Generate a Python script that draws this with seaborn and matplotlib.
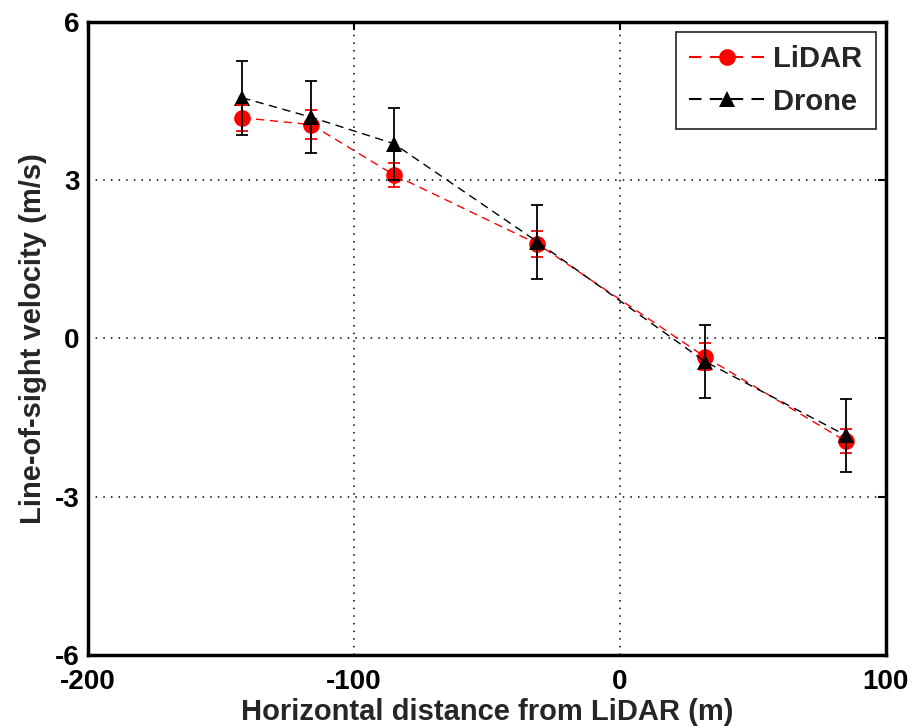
import numpy as np
import pandas as pd
import seaborn as sns
import matplotlib
matplotlib.use("Agg")
import matplotlib.pyplot as plt
from matplotlib.lines import Line2D

# Horizontal distance of each measurement point from the LiDAR (m)
distance = [-142, -116, -85, -31, 32, 85]

# Line-of-sight velocity (m/s) and its uncertainty
lidar_vel = [4.18, 4.05, 3.10, 1.79, -0.35, -1.95]
lidar_err = [0.25, 0.27, 0.23, 0.25, 0.26, 0.23]
drone_vel = [4.56, 4.19, 3.69, 1.83, -0.44, -1.84]
drone_err = [0.70, 0.68, 0.68, 0.70, 0.70, 0.69]

xticks = [-200, -100, 0, 100]
yticks = [-6, -3, 0, 3, 6]

sns.set_theme(style="white")
plt.rcParams["font.family"] = ["Liberation Sans", "DejaVu Sans"]
plt.rcParams["font.weight"] = "bold"
plt.rcParams["axes.unicode_minus"] = False

df = pd.DataFrame({
    "distance": distance * 2,
    "velocity": lidar_vel + drone_vel,
    "source": ["LiDAR"] * len(distance) + ["Drone"] * len(distance),
})

fig = plt.figure(figsize=(9.16, 7.26), dpi=100)
ax = fig.add_axes([0.096, 0.098, 0.871, 0.872])

sns.lineplot(
    data=df, x="distance", y="velocity", hue="source", style="source",
    palette={"LiDAR": "#ff0000", "Drone": "#000000"},
    markers={"LiDAR": "o", "Drone": "^"},
    dashes={"LiDAR": (6, 4), "Drone": (6, 4)},
    markersize=12, markeredgewidth=0, linewidth=1.0,
    ax=ax, legend=False, sort=False,
)

ax.errorbar(distance, lidar_vel, yerr=lidar_err, fmt="none", ecolor="#ff0000",
            elinewidth=1.3, capsize=4.5, capthick=1.3, zorder=3)
ax.errorbar(distance, drone_vel, yerr=drone_err, fmt="none", ecolor="black",
            elinewidth=1.3, capsize=4.5, capthick=1.3, zorder=4)

ax.set_xlim(-200, 100)
ax.set_ylim(-6, 6)
ax.set_xticks(xticks)
ax.set_yticks(yticks)
ax.grid(True, color="black", linestyle=(0, (1, 4)), linewidth=1.1)
ax.tick_params(direction="in", length=6, width=1.5, labelsize=20,
               top=True, right=True, colors="black")
ax.tick_params(axis="x", pad=10)
ax.tick_params(axis="y", pad=6)
for s in ax.spines.values():
    s.set_color("black")
    s.set_linewidth(2.5)

ax.set_xlabel("Horizontal distance from LiDAR (m)", fontsize=21,
              fontweight="bold", labelpad=2)
ax.set_ylabel("Line-of-sight velocity (m/s)", fontsize=21,
              fontweight="bold", labelpad=6)

handles = [
    Line2D([], [], color="#ff0000", linestyle=(0, (6, 4)), marker="o",
           markersize=12, markeredgewidth=0),
    Line2D([], [], color="black", linestyle=(0, (6, 4)), marker="^",
           markersize=12, markeredgewidth=0),
]
leg = ax.legend(handles, ["LiDAR", "Drone"], loc="upper right",
                prop={"size": 21, "weight": "bold"},
                frameon=True, fancybox=False, edgecolor="black",
                handlelength=2.6, handletextpad=0.3, borderaxespad=0.35,
                labelspacing=0.5, borderpad=0.45)
leg.get_frame().set_linewidth(1.3)

fig.savefig("out.png", dpi=100)
